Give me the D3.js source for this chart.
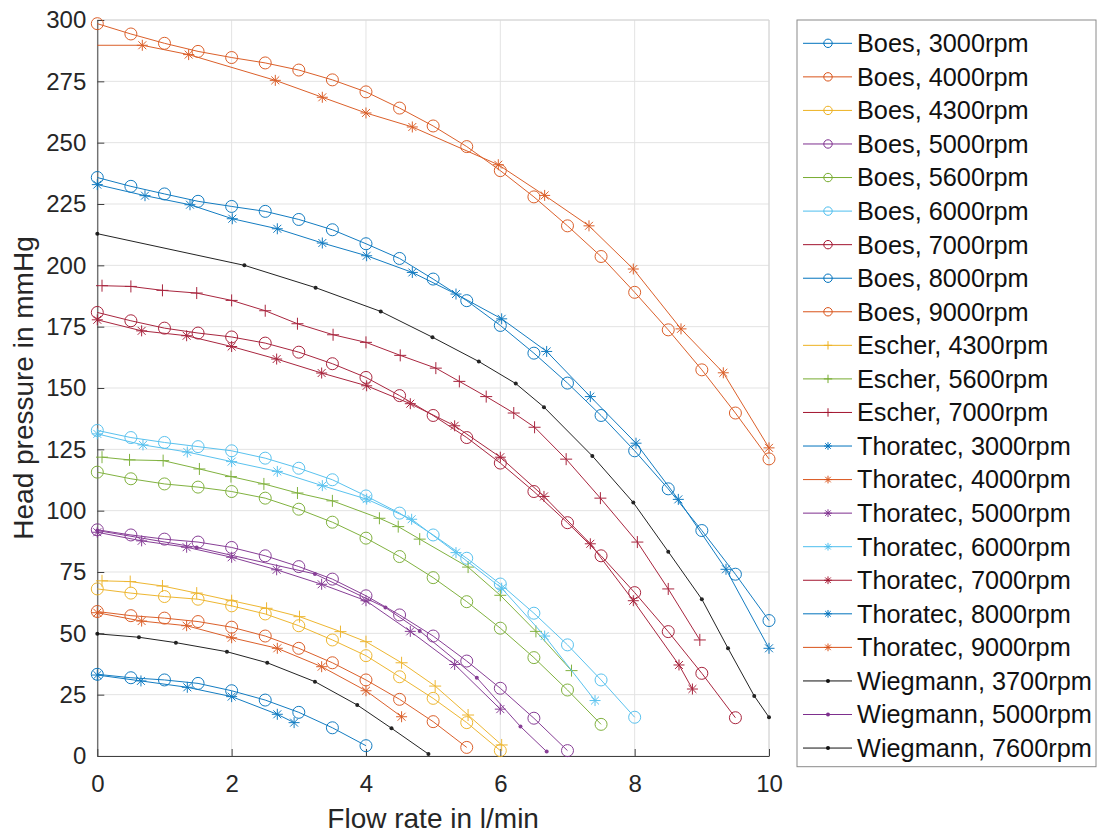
<!DOCTYPE html>
<html>
<head>
<meta charset="utf-8">
<script src="https://cdn.jsdelivr.net/npm/d3@7"></script>
<style>
  body { margin: 0; background: #fff; }
  text { font-family: "Liberation Sans", Arial, Helvetica, sans-serif; }
</style>
</head>
<body>
<div id="chart"></div>
<script>
// flow rate (l/min); Boes points sit on a 0.5 grid
var boesX = [0, 0.5, 1, 1.5, 2, 2.5, 3, 3.5, 4, 4.5, 5, 5.5, 6, 6.5, 7, 7.5, 8, 8.5, 9, 9.5, 10];

var boes3000 = [33.3, 31.9, 31.0, 29.6, 26.6, 22.8, 17.8, 11.5, 4.2];
var boes4000 = [58.9, 57.2, 56.2, 54.8, 52.5, 48.9, 43.9, 38.0, 31.0, 23.1, 14.0, 3.5];
var boes4300 = [68.1, 66.4, 65.0, 63.9, 61.2, 57.9, 53.1, 47.3, 40.9, 32.3, 23.5, 13.6, 2.2];
var boes5000 = [92.2, 90.1, 88.4, 87.2, 85.0, 81.6, 77.2, 72.1, 65.3, 57.5, 48.9, 38.7, 27.6, 15.4, 2.2];
var boes5600 = [115.7, 113.0, 110.9, 109.6, 107.8, 105.1, 100.6, 95.3, 88.8, 81.3, 72.7, 62.9, 52.1, 40.1, 26.9, 12.9];
var boes6000 = [132.7, 129.8, 127.8, 126.1, 124.4, 121.4, 117.3, 112.6, 106.0, 99.0, 90.1, 80.6, 70.1, 58.2, 45.3, 31.0, 15.8];
var boes7000 = [180.8, 177.4, 174.4, 172.4, 170.8, 168.3, 164.6, 159.9, 154.3, 146.9, 138.8, 129.8, 119.4, 107.8, 95.1, 81.6, 66.6, 50.7, 33.7, 15.6];
var boes8000 = [235.8, 232.2, 229.1, 226.1, 224.0, 222.0, 218.7, 214.5, 208.8, 202.8, 194.4, 185.6, 175.5, 164.2, 152.0, 138.8, 124.4, 108.9, 91.9, 74.1, 55.2];
var boes9000 = [298.5, 294.3, 290.5, 287.2, 284.7, 282.5, 279.6, 275.6, 270.7, 264.1, 256.8, 248.4, 238.6, 227.9, 216.1, 203.6, 189.0, 173.7, 157.4, 139.8, 121.1];

// [flow, head] pairs
var escher4300 = [[0.07,71.4],[0.49,71.1],[0.97,69.3],[1.48,66.4],[2.0,63.3],[2.52,60.2],[3.01,56.8],[3.62,50.7],[4.0,46.6],[4.53,38.0],[5.03,28.5],[5.52,16.7],[6.02,4.5]];
var escher5600 = [[0.07,121.8],[0.48,120.7],[0.98,120.4],[1.52,117.0],[1.99,113.9],[2.48,110.9],[2.98,107.2],[3.5,104.0],[4.2,96.9],[4.48,93.5],[4.8,88.4],[5.52,77.0],[6.0,65.5],[6.53,50.8],[7.06,34.8]];
var escher7000 = [[0.07,191.7],[0.5,191.4],[0.97,189.8],[1.48,188.7],[2.0,185.7],[2.5,181.5],[2.98,176.2],[3.51,171.7],[4.0,168.6],[4.51,163.3],[5.04,158.1],[5.39,152.7],[5.79,146.5],[6.2,139.8],[6.51,134.0],[6.98,121.0],[7.49,105.1],[8.04,87.2],[8.5,68.1],[8.97,47.3]];

var thoratec3000 = [[0,33.0],[0.65,30.6],[1.34,28.0],[2.0,24.2],[2.68,17.0],[2.93,13.6]];
var thoratec4000 = [[0,58.4],[0.66,55.0],[1.33,53.1],[2.0,48.2],[2.68,43.9],[3.34,36.4],[4.0,26.6],[4.53,16.0]];
var thoratec5000 = [[0,91.2],[0.66,87.7],[1.33,85.1],[2.0,81.0],[2.67,75.9],[3.34,70.0],[4.0,63.3],[4.66,50.8],[5.32,37.3],[6.0,19.1]];
var thoratec6000 = [[0,131.3],[0.68,126.8],[1.34,123.9],[2.0,120.0],[2.68,116.0],[3.35,110.2],[4.01,104.7],[4.68,96.5],[5.34,82.9],[6.02,68.4],[6.66,48.9],[7.41,22.6]];
var thoratec7000 = [[0,177.8],[0.66,173.3],[1.33,171.3],[2.0,166.9],[2.67,161.8],[3.34,156.1],[4.01,150.9],[4.66,143.6],[5.32,134.6],[6.0,121.8],[6.65,105.8],[7.34,86.5],[7.98,63.3],[8.66,37.1],[8.86,27.3]];
var thoratec8000 = [[0,232.9],[0.71,228.4],[1.38,224.7],[2.01,219.0],[2.68,214.9],[3.35,209.1],[4.01,203.9],[4.69,197.1],[5.34,188.3],[6.02,178.2],[6.69,164.9],[7.34,146.5],[8.02,127.5],[8.65,104.6],[9.36,76.1],[10.0,43.9]];
// the first point of this series carries no visible marker in the source
var thoratec9000 = [[0,289.7],[0.67,289.7],[1.36,285.9],[2.65,275.4],[3.35,268.5],[4.0,262.1],[4.69,256.4],[5.97,241.0],[6.66,228.5],[7.32,216.1],[7.98,198.5],[8.69,174.1],[9.32,156.2],[10.0,125.6]];

var wiegmann3700 = [[0,49.8],[0.62,48.4],[1.17,46.2],[1.93,42.5],[2.53,38.0],[3.24,30.3],[3.87,20.8],[4.38,11.3],[4.93,0.8]];
var wiegmann5000 = [[0,91.9],[1.48,85.0],[3.24,74.2],[4.29,60.5],[4.8,51.0],[5.65,31.9],[6.3,12.0],[6.69,1.8]];
var wiegmann7600 = [[0,212.9],[2.19,200.0],[3.25,190.9],[4.22,181.2],[4.99,170.7],[5.68,160.8],[6.23,151.8],[6.65,142.2],[7.37,122.3],[7.98,103.3],[8.5,83.3],[9.0,63.9],[9.39,43.9],[9.78,24.5],[10.0,15.8]];

var xTicks = [0, 2, 4, 6, 8, 10];
var yTicks = [0, 25, 50, 75, 100, 125, 150, 175, 200, 225, 250, 275, 300];

function boes(ys) { return ys.map((v, i) => [boesX[i], v]); }

var series = [
  { study: 'Boes', rpm: 3000, pts: boes(boes3000) },
  { study: 'Boes', rpm: 4000, pts: boes(boes4000) },
  { study: 'Boes', rpm: 4300, pts: boes(boes4300) },
  { study: 'Boes', rpm: 5000, pts: boes(boes5000) },
  { study: 'Boes', rpm: 5600, pts: boes(boes5600) },
  { study: 'Boes', rpm: 6000, pts: boes(boes6000) },
  { study: 'Boes', rpm: 7000, pts: boes(boes7000) },
  { study: 'Boes', rpm: 8000, pts: boes(boes8000) },
  { study: 'Boes', rpm: 9000, pts: boes(boes9000) },
  { study: 'Escher', rpm: 4300, pts: escher4300 },
  { study: 'Escher', rpm: 5600, pts: escher5600 },
  { study: 'Escher', rpm: 7000, pts: escher7000 },
  { study: 'Thoratec', rpm: 3000, pts: thoratec3000 },
  { study: 'Thoratec', rpm: 4000, pts: thoratec4000 },
  { study: 'Thoratec', rpm: 5000, pts: thoratec5000 },
  { study: 'Thoratec', rpm: 6000, pts: thoratec6000 },
  { study: 'Thoratec', rpm: 7000, pts: thoratec7000 },
  { study: 'Thoratec', rpm: 8000, pts: thoratec8000 },
  { study: 'Thoratec', rpm: 9000, pts: thoratec9000, skipFirst: true },
  { study: 'Wiegmann', rpm: 3700, pts: wiegmann3700 },
  { study: 'Wiegmann', rpm: 5000, pts: wiegmann5000 },
  { study: 'Wiegmann', rpm: 7600, pts: wiegmann7600 }
];

var width = 1104, height = 833;
var m = { left: 97.3, right: 769, top: 20, bottom: 756 };

var color = d3.scaleOrdinal()
  .domain([3000, 4000, 4300, 5000, 5600, 6000, 7000, 8000, 9000, 3700, 7600])
  .range(['#0072BD', '#D95319', '#EDB120', '#7E2F8E', '#77AC30', '#4DBEEE', '#A2142F', '#0072BD', '#D95319', '#111111', '#111111']);

var markerOf = { Boes: 'o', Escher: '+', Thoratec: '*', Wiegmann: '.' };

var x = d3.scaleLinear().domain([0, 10]).range([m.left, m.right]);
var y = d3.scaleLinear().domain([0, 300]).range([m.bottom, m.top]);

var svg = d3.select('#chart').append('svg')
  .attr('width', width).attr('height', height);

// grid
var grid = svg.append('g').attr('stroke', '#e3e3e3').attr('stroke-width', 1);
grid.selectAll('.gx').data(xTicks).enter().append('line')
  .attr('x1', d => x(d)).attr('x2', d => x(d)).attr('y1', m.top).attr('y2', m.bottom);
grid.selectAll('.gy').data(yTicks).enter().append('line')
  .attr('x1', m.left).attr('x2', m.right).attr('y1', d => y(d)).attr('y2', d => y(d));

// box top/right
svg.append('path')
  .attr('d', 'M' + m.left + ',' + m.top + 'H' + m.right + 'V' + m.bottom)
  .attr('fill', 'none').attr('stroke', '#d4d4d4');

var xAxis = svg.append('g')
  .attr('transform', 'translate(0,' + m.bottom + ')')
  .call(d3.axisBottom(x).tickValues(xTicks).tickSize(-7).tickPadding(19).tickSizeOuter(0));
var yAxis = svg.append('g')
  .attr('transform', 'translate(' + m.left + ',0)')
  .call(d3.axisLeft(y).tickValues(yTicks).tickSize(-7).tickPadding(11).tickSizeOuter(0));

[xAxis, yAxis].forEach(a => {
  a.select('.domain').attr('stroke', '#404040');
  a.selectAll('.tick line').attr('stroke', '#404040');
  a.selectAll('.tick text').attr('fill', '#262626').style('font-size', '24px')
    .style('font-family', '"Liberation Sans", Arial, sans-serif');
});

var line = d3.line().x(d => x(d[0])).y(d => y(d[1]));

function drawMarker(sel, type, c, s) {
  if (type === 'o') {
    sel.append('circle').attr('r', 6 * s).attr('fill', 'none').attr('stroke', c);
  } else if (type === '+') {
    var h = 6 * s;
    sel.append('path').attr('d', 'M' + (-h) + ',0H' + h + 'M0,' + (-h) + 'V' + h)
      .attr('stroke', c).attr('fill', 'none');
  } else if (type === '*') {
    var h = 5.5 * s, dd = h * 0.72;
    sel.append('path')
      .attr('d', 'M' + (-h) + ',0H' + h + 'M0,' + (-h) + 'V' + h +
                 'M' + (-dd) + ',' + (-dd) + 'L' + dd + ',' + dd +
                 'M' + (-dd) + ',' + dd + 'L' + dd + ',' + (-dd))
      .attr('stroke', c).attr('fill', 'none');
  } else {
    sel.append('circle').attr('r', 2).attr('fill', c);
  }
}

var plot = svg.append('g').attr('opacity', 0.92);
series.forEach(s => {
  var c = color(s.rpm), mk = markerOf[s.study];
  var g = plot.append('g');
  g.append('path').datum(s.pts)
    .attr('d', line)
    .attr('fill', 'none')
    .attr('stroke', c)
    .attr('stroke-width', 1);
  g.selectAll('.pt').data(s.skipFirst ? s.pts.slice(1) : s.pts).enter().append('g')
    .attr('transform', d => 'translate(' + x(d[0]) + ',' + y(d[1]) + ')')
    .each(function() { drawMarker(d3.select(this), mk, c, 1); });
});

// axis labels
svg.append('text')
  .attr('x', (m.left + m.right) / 2).attr('y', 828)
  .attr('text-anchor', 'middle').attr('fill', '#262626')
  .style('font-size', '28px')
  .text('Flow rate in l/min');
svg.append('text')
  .attr('transform', 'translate(33,' + ((m.top + m.bottom) / 2) + ') rotate(-90)')
  .attr('text-anchor', 'middle').attr('fill', '#262626')
  .style('font-size', '28px')
  .text('Head pressure in mmHg');

// legend
var lg = { x: 797, y: 20, w: 299, h: 746.7, row0: 43.3, step: 33.56 };
var legend = svg.append('g');
legend.append('rect')
  .attr('x', lg.x).attr('y', lg.y).attr('width', lg.w).attr('height', lg.h)
  .attr('fill', '#fff').attr('stroke', '#8a8a8a');
var items = legend.selectAll('.item').data(series).enter().append('g')
  .attr('transform', (d, i) => 'translate(0,' + (lg.row0 + i * lg.step) + ')');
items.append('line')
  .attr('x1', 803).attr('x2', 852)
  .attr('stroke', d => color(d.rpm)).attr('stroke-width', 1);
items.each(function(d) {
  var g = d3.select(this).append('g').attr('transform', 'translate(828,0)');
  drawMarker(g, markerOf[d.study], color(d.rpm), 0.7);
});
items.append('text')
  .attr('x', 857).attr('dy', '0.35em')
  .attr('fill', '#111')
  .style('font-size', '25.3px')
  .text(d => d.study + ', ' + d.rpm + 'rpm');
</script>
</body>
</html>
